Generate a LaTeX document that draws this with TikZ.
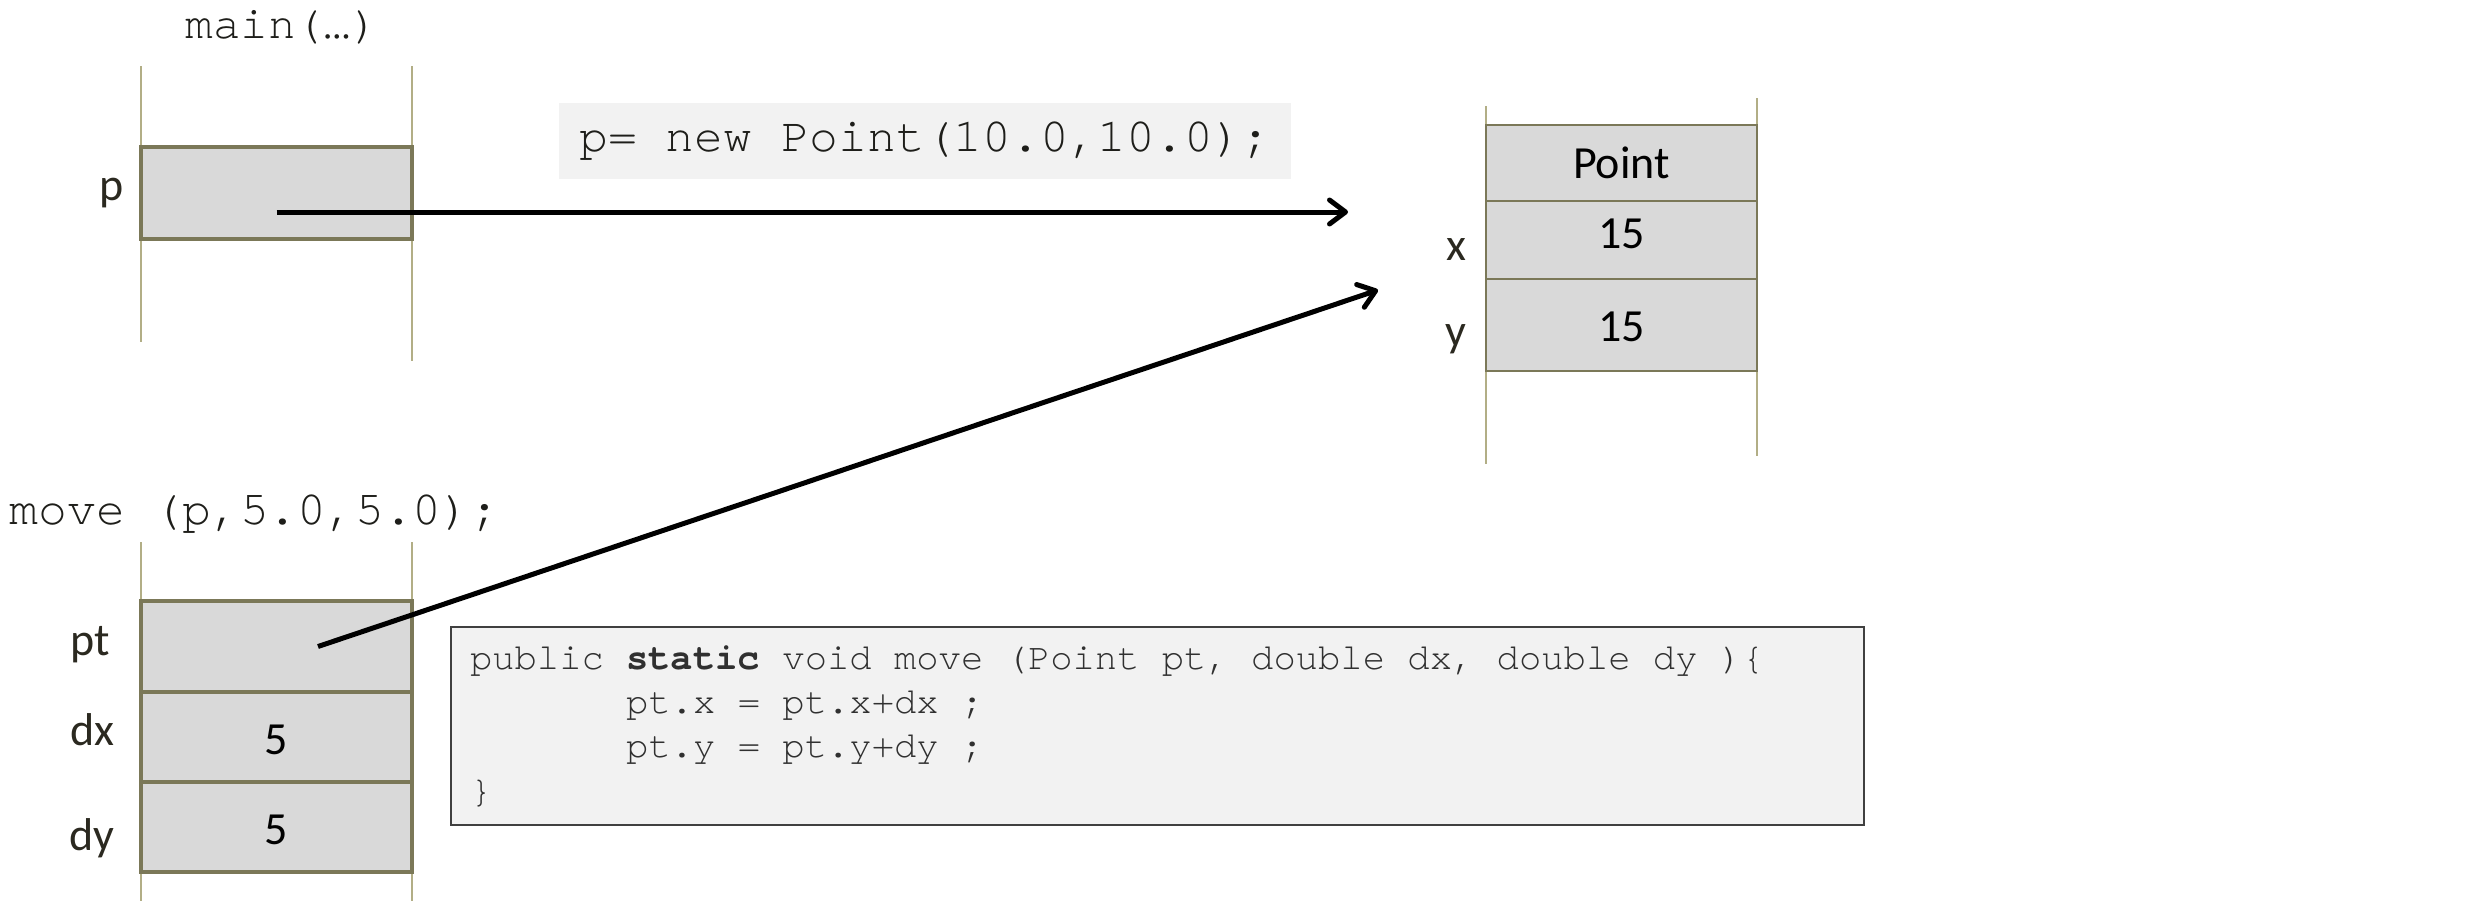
\documentclass[tikz,border=0pt]{standalone}
\usepackage{fontspec}
\setmainfont{Carlito}
\newfontfamily\cour{texgyrecursor}[Extension=.otf, UprightFont=*-regular, BoldFont=*-bold]
\usetikzlibrary{arrows.meta}
\definecolor{cellfill}{HTML}{D9D9D9}
\definecolor{cellborder}{HTML}{7B7858}
\definecolor{stackcol}{HTML}{B2AE86}
\definecolor{codefill}{HTML}{F2F2F2}
\definecolor{codetxt}{HTML}{1E1E1A}
\definecolor{codetxtb}{HTML}{303030}
\definecolor{boxborder}{HTML}{404040}
\definecolor{txt}{HTML}{2B2920}
\begin{document}
\begin{tikzpicture}[x=0.5pt,y=-0.5pt,
  cell/.style={draw=cellborder, line width=2pt, fill=cellfill, minimum width=135.5pt,
    inner sep=0pt, outer sep=0pt, font=\fontsize{23}{27}\selectfont, text=black},
  thincell/.style={cell, line width=1.25pt},
  lbl/.style={font=\fontsize{23}{27}\selectfont, inner sep=0pt, text=txt, anchor=base east},
  stackline/.style={draw=stackcol, line width=1pt},
  ptr/.style={draw=black, line width=2.5pt, -{Straight Barb[length=8pt,width=12pt,round]}},
  mono/.style={font=\fontsize{24}{28}\cour, text=codetxt, inner sep=0pt},
  codeone/.style={fill=codefill, font=\fontsize{24}{28}\cour, text=codetxt,
    inner xsep=10pt, inner ysep=0pt, minimum height=38pt},
  codetwo/.style={draw=boxborder, line width=1pt, fill=codefill,
    font=\fontsize{18.6}{22.2}\cour, text=codetxtb, align=left,
    text width=687.5pt, inner xsep=9.5pt, inner ysep=0pt, minimum height=99pt}
]
\useasboundingbox (0,0) rectangle (2484,901);

% stack frame lines
\draw[stackline] (141,66) -- (141,342);
\draw[stackline] (412,66) -- (412,361);
\draw[stackline] (141,542) -- (141,901);
\draw[stackline] (412,542) -- (412,901);
\draw[stackline] (1486,106) -- (1486,464);
\draw[stackline] (1757,98) -- (1757,456);

% main frame
\node[mono, font=\fontsize{23}{27}\cour] (mainlbl) at (282,27) {main(…)};
\node[cell, minimum height=46pt] (pcell) at (276.5,193) {};
\node[lbl] (plbl) at (124,200) {p};

% heap object
\node[thincell, minimum height=38pt] (pointcell) at (1621.5,163) {Point};
\node[thincell, minimum height=39pt, text depth=6pt] (xcell) at (1621.5,240) {15};
\node[thincell, minimum height=46pt, text height=17pt] (ycell) at (1621.5,325) {15};
\node[lbl] (xlbl) at (1467,260) {x};
\node[lbl] (ylbl) at (1467,346) {y};

% code 1
\node[codeone] (newcode) at (925,141) {p= new Point(10.0,10.0);};

% move frame
\node[mono] (movelbl) at (254.5,514) {move (p,5.0,5.0);};
\node[cell, minimum height=45.5pt] (ptcell) at (276.5,646.5) {};
\node[cell, minimum height=45pt, text height=18pt] (dxcell) at (276.5,736.5) {5};
\node[cell, minimum height=45pt, text height=18pt] (dycell) at (276.5,826.5) {5};
\node[lbl] (ptlbl) at (110,655) {pt};
\node[lbl] (dxlbl) at (115,745) {dx};
\node[lbl] (dylbl) at (115,850) {dy};

% code 2
\node[codetwo] (movecode) at (1157.5,726) {\spaceskip=0pt\xspaceskip=0pt public \textbf{static} void move (Point pt, double dx, double dy )\{\\
\phantom{0000000}pt.x = pt.x+dx ;\\
\phantom{0000000}pt.y = pt.y+dy ;\\
\}};

% pointers
\coordinate (a1s) at ([yshift=-9.5pt]pcell.center);
\coordinate (a1e) at (1348,212);
\coordinate (a2s) at ([xshift=20.75pt]ptcell.center);
\coordinate (a2e) at (1378,290);
\draw[ptr] (a1s) -- (a1e);
\draw[ptr] (a2s) -- (a2e);
\end{tikzpicture}
\end{document}
